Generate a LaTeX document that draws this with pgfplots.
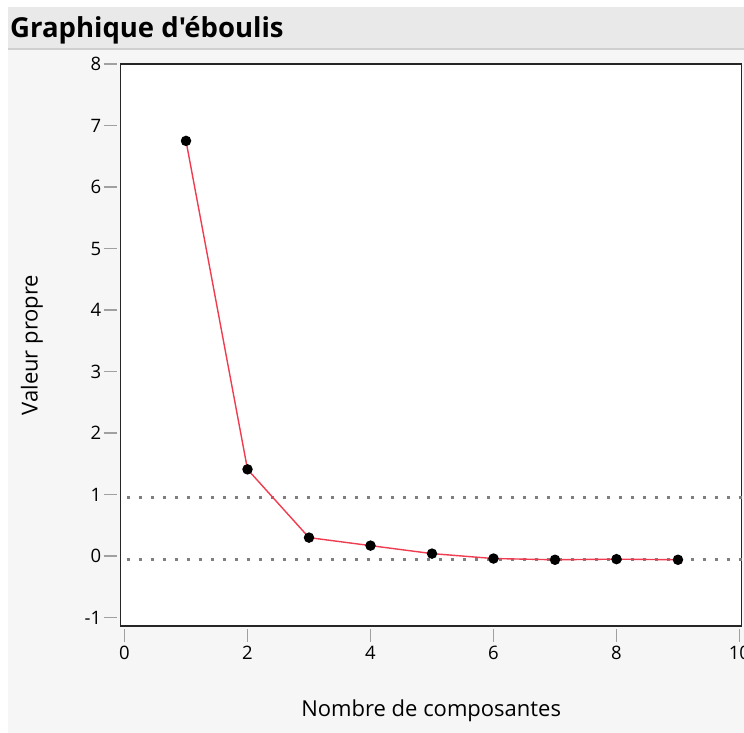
\documentclass[border=0pt]{standalone}
\usepackage{pgfplots}
\pgfplotsset{compat=1.18}
\usepackage{fontspec}
\setmainfont{Open Sans}[Ligatures=TeXOff]
\definecolor{barbg}{HTML}{E9E9E9}
\definecolor{panelbg}{HTML}{F6F6F6}
\definecolor{sepline}{HTML}{CFCFCF}
\definecolor{jmpred}{RGB}{240,60,80}
\definecolor{tickgray}{HTML}{A0A0A0}
\definecolor{dotgray}{HTML}{7F7F7F}
\begin{document}
\begin{tikzpicture}[x=1pt,y=1pt]
\fill[white] (0,0) rectangle (744,-733);
\fill[panelbg] (8,-50) rectangle (744,-733);
\fill[barbg] (8,-7) rectangle (744,-48);
\fill[sepline] (8,-48) rectangle (744,-50);
\node[anchor=base west, inner sep=0pt, font=\fontsize{27.5}{30}\selectfont\bfseries] at (10,-38) {Graphique d'éboulis};
\begin{axis}[
  at={(120.7pt,-626pt)}, anchor=south west,
  scale only axis, width=621pt, height=562pt,
  xmin=-0.062, xmax=10.036, ymin=-1.137, ymax=8,
  xtick={0,2,...,10}, ytick={-1,0,...,8},
  axis background/.style={fill=white},
  axis line style={black!85, line width=1.5pt},
  tick align=outside,
  major tick length=13pt,
  xtick style={tickgray, line width=1.3pt, yshift=-2.5pt},
  ytick style={tickgray, line width=1.3pt, xshift=-4pt},
  xtick pos=bottom, ytick pos=left,
  /pgf/number format/assume math mode=true,
  ticklabel style={font=\fontsize{18.5}{20}\selectfont},
  xticklabel style={yshift=-4pt},
  yticklabel style={xshift=-3pt},
  xlabel={Nombre de composantes}, ylabel={Valeur propre},
  every axis x label/.style={at={(axis description cs:0.5,-0.1512)}, anchor=center, font=\fontsize{22}{24}\selectfont},
  every axis y label/.style={at={(axis description cs:-0.1428,0.5)}, rotate=90, anchor=center, font=\fontsize{22}{24}\selectfont},
  clip=false,
]
\addplot[dotgray, line width=3pt, dash pattern=on 3pt off 9pt, dash phase=6pt, forget plot] coordinates {(-0.062,0.96) (10.036,0.96)};
\addplot[dotgray, line width=3pt, dash pattern=on 3pt off 9pt, dash phase=6pt, forget plot] coordinates {(-0.062,-0.05) (10.036,-0.05)};
\addplot[jmpred, line width=1.4pt, mark=*, mark size=4.5pt, mark options={fill=black, draw=black, solid}] coordinates {
(1,6.75) (2,1.41) (3,0.30) (4,0.17) (5,0.04) (6,-0.04) (7,-0.06) (8,-0.05) (9,-0.06)
};
\end{axis}
\pgfresetboundingbox
\useasboundingbox (0,0) rectangle (744,-733);
\end{tikzpicture}
\end{document}
